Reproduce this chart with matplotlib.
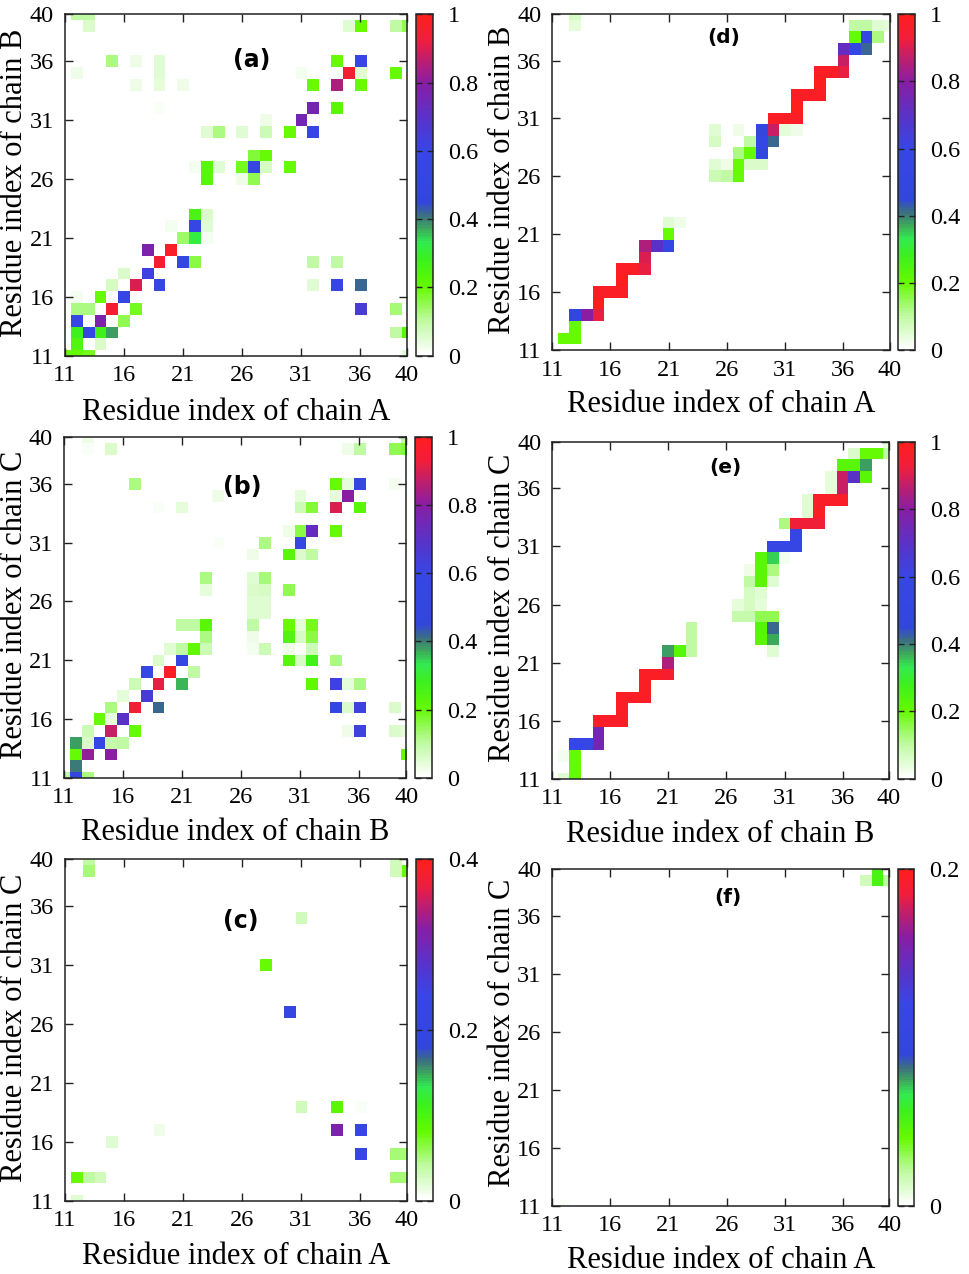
import numpy as np
import matplotlib
matplotlib.use('Agg')
import matplotlib.pyplot as plt
from matplotlib.colors import LinearSegmentedColormap

plt.rcParams['font.family'] = ['Liberation Serif', 'DejaVu Serif']

# residue numbering and ticks
residues = list(range(11, 41))
axis_ticks = [11, 16, 21, 26, 31, 36, 40]

# contact maps: (residue on x, residue on y, probability)
contacts_a = [
    (12, 40, .1), (13, 40, .1), (13, 39, .06), (35, 39, .05), (36, 39, .2), (39, 39, .1), (40, 39, .15),
    (15, 36, .12), (17, 36, .03), (19, 36, .05), (34, 36, .2), (36, 36, .55),
    (12, 35, .03), (19, 35, .05), (31, 35, .02), (35, 35, .95), (36, 35, .05), (39, 35, .2),
    (17, 34, .03), (19, 34, .04), (21, 34, .03), (32, 34, .2), (34, 34, .85), (36, 34, .2),
    (19, 32, .01), (32, 32, .75), (34, 32, .22), (28, 31, .03), (31, 31, .75),
    (23, 30, .05), (24, 30, .12), (26, 30, .05), (28, 30, .08), (30, 30, .2), (32, 30, .55),
    (27, 28, .17), (28, 28, .2),
    (22, 27, .02), (23, 27, .22), (24, 27, .05), (26, 27, .18), (27, 27, .55), (28, 27, .07), (30, 27, .2),
    (23, 26, .22), (26, 26, .03), (27, 26, .15),
    (22, 23, .25), (23, 23, .06), (20, 22, .02), (22, 22, .55), (23, 22, .05),
    (21, 21, .14), (22, 21, .32), (23, 21, .02), (18, 20, .78), (20, 20, .97),
    (19, 19, .95), (21, 19, .58), (22, 19, .16), (32, 19, .1), (34, 19, .1),
    (16, 18, .06), (18, 18, .62),
    (15, 17, .07), (17, 17, .9), (19, 17, .55), (32, 17, .05), (34, 17, .55), (36, 17, .42),
    (12, 16, .02), (14, 16, .2), (16, 16, .6),
    (12, 15, .12), (13, 15, .12), (15, 15, .95), (17, 15, .18), (36, 15, .65), (39, 15, .13),
    (12, 14, .55), (14, 14, .78), (16, 14, .15),
    (12, 13, .28), (13, 13, .58), (14, 13, .27), (15, 13, .38), (39, 13, .1), (40, 13, .22),
    (12, 12, .24), (14, 12, .06), (11, 11, .2), (12, 11, .2), (13, 11, .18), (40, 11, .05),
]
contacts_b = [
    (13, 40, .03), (40, 40, .1), (13, 39, .01), (15, 39, .06), (35, 39, .03), (36, 39, .1), (39, 39, .15), (40, 39, .17),
    (17, 36, .12), (34, 36, .2), (35, 36, .04), (36, 36, .55), (39, 36, .02),
    (24, 35, .03), (31, 35, .04), (34, 35, .04), (35, 35, .8),
    (19, 34, .01), (21, 34, .04), (31, 34, .08), (32, 34, .17), (34, 34, .9), (36, 34, .22),
    (30, 32, .03), (31, 32, .16), (32, 32, .72), (34, 32, .2),
    (24, 31, .01), (28, 31, .12), (31, 31, .55), (27, 30, .03), (30, 30, .22), (31, 30, .06), (32, 30, .1),
    (23, 28, .12), (27, 28, .05), (28, 28, .13), (23, 27, .04), (27, 27, .06), (28, 27, .07), (30, 27, .15),
    (27, 26, .05), (28, 26, .05), (27, 25, .05), (28, 25, .05),
    (21, 24, .1), (22, 24, .1), (23, 24, .22), (27, 24, .1), (30, 24, .2), (31, 24, .04), (32, 24, .18),
    (23, 23, .12), (27, 23, .03), (30, 23, .24), (31, 23, .07), (32, 23, .16),
    (20, 22, .05), (21, 22, .1), (22, 22, .21), (23, 22, .08), (27, 22, .02), (28, 22, .08), (30, 22, .03), (32, 22, .08),
    (19, 21, .06), (21, 21, .55), (30, 21, .23), (31, 21, .07), (32, 21, .27), (34, 21, .12),
    (18, 20, .57), (20, 20, .98), (22, 20, .1),
    (17, 19, .08), (19, 19, .92), (21, 19, .36), (32, 19, .21), (34, 19, .62), (35, 19, .04), (36, 19, .12),
    (16, 18, .04), (18, 18, .65),
    (15, 17, .12), (17, 17, .93), (19, 17, .42), (34, 17, .52), (35, 17, .06), (36, 17, .62), (39, 17, .06),
    (14, 16, .2), (15, 16, .04), (16, 16, .7),
    (13, 15, .08), (15, 15, .88), (17, 15, .2), (35, 15, .03), (36, 15, .62), (39, 15, .06), (40, 15, .04),
    (12, 14, .38), (13, 14, .06), (14, 14, .6), (15, 14, .09), (16, 14, .1),
    (12, 13, .2), (13, 13, .82), (15, 13, .8), (40, 13, .2),
    (12, 12, .4), (11, 11, .1), (12, 11, .5), (13, 11, .12),
]
contacts_c = [
    (13, 40, .04), (39, 40, .03), (13, 39, .05), (39, 39, .03), (40, 39, .08), (39, 36, .003), (31, 35, .03),
    (28, 31, .08), (30, 27, .22), (31, 19, .03), (33, 19, .003), (34, 19, .09), (36, 19, .005),
    (19, 17, .01), (34, 17, .31), (36, 17, .22), (15, 16, .02),
    (36, 15, .22), (39, 15, .05), (40, 15, .05),
    (12, 13, .08), (13, 13, .04), (14, 13, .03), (39, 13, .05), (40, 13, .05), (12, 11, .02),
]
contacts_d = [
    (13, 40, .07), (13, 39, .04), (37, 39, .1), (38, 39, .1), (39, 39, .05), (40, 39, .04),
    (37, 38, .2), (38, 38, .52), (39, 38, .12), (36, 37, .72), (37, 37, .6), (38, 37, .42),
    (36, 36, .88), (34, 35, .98), (35, 35, .98), (36, 35, .92), (34, 34, 1.0),
    (32, 33, .98), (33, 33, .98), (34, 33, .98), (32, 32, 1.0), (30, 31, .98), (31, 31, .98), (32, 31, .98),
    (25, 30, .05), (27, 30, .03), (29, 30, .48), (30, 30, .88), (31, 30, .04), (32, 30, .03),
    (25, 29, .07), (28, 29, .1), (29, 29, .6), (30, 29, .42),
    (27, 28, .12), (28, 28, .2), (29, 28, .5),
    (25, 27, .05), (26, 27, .03), (27, 27, .2), (28, 27, .06), (29, 27, .06),
    (25, 26, .08), (26, 26, .1), (27, 26, .2),
    (21, 22, .05), (22, 22, .03), (21, 21, .2), (19, 20, .85), (20, 20, .7), (21, 20, .57),
    (19, 19, .9), (17, 18, .98), (18, 18, .98), (19, 18, .92), (17, 17, 1.0),
    (15, 16, .98), (16, 16, .98), (17, 16, .98), (15, 15, 1.0),
    (13, 14, .52), (14, 14, .8), (15, 14, .92), (13, 13, .2), (12, 12, .2), (13, 12, .2),
]
contacts_e = [
    (40, 40, .04), (37, 39, .06), (38, 39, .2), (39, 39, .2), (40, 39, .1),
    (36, 38, .22), (37, 38, .22), (38, 38, .38), (35, 37, .04), (36, 37, .88), (37, 37, .7), (38, 37, .22),
    (35, 36, .04), (36, 36, .88), (33, 35, .05), (34, 35, .97), (35, 35, .97), (36, 35, .97),
    (33, 34, .05), (34, 34, .98), (31, 33, .12), (32, 33, .93), (33, 33, .93), (34, 33, .93),
    (32, 32, .55), (30, 31, .56), (31, 31, .56), (32, 31, .56),
    (29, 30, .22), (30, 30, .35), (31, 30, .02), (28, 29, .03), (29, 29, .22), (30, 29, .12),
    (28, 28, .1), (29, 28, .22), (30, 28, .05), (28, 27, .07), (29, 27, .05),
    (27, 26, .04), (28, 26, .07), (29, 26, .04), (27, 25, .09), (28, 25, .09), (29, 25, .15), (30, 25, .15),
    (23, 24, .1), (29, 24, .23), (30, 24, .42), (23, 23, .1), (29, 23, .22), (30, 23, .37),
    (21, 22, .38), (22, 22, .22), (23, 22, .1), (30, 22, .05), (21, 21, .85),
    (19, 20, .98), (20, 20, .98), (21, 20, .96), (19, 19, .98), (17, 18, .98), (18, 18, .98), (19, 18, .98),
    (17, 17, .98), (15, 16, .97), (16, 16, .97), (17, 16, .97), (15, 15, .75),
    (13, 14, .58), (14, 14, .6), (15, 14, .75), (12, 13, .02), (13, 13, .2), (13, 12, .2), (12, 11, .05), (13, 11, .2),
]
contacts_f = [(39, 40, .05), (38, 39, .015), (39, 39, .05), (40, 39, .02), (12, 11, .003)]

# colour scale
palette_stops = [0, .1, .2, .28, .33, .37, .41, .45, .6, .7, .8, .87, .93, 1]
palette_rgb = [(255, 255, 255), (190, 250, 160), (100, 250, 0), (60, 240, 30), (50, 235, 80), (60, 170, 90),
               (60, 110, 130), (50, 70, 220), (55, 70, 230), (90, 50, 200), (135, 30, 165), (190, 30, 110),
               (240, 30, 60), (255, 30, 30)]
cmap = LinearSegmentedColormap.from_list(
    'contact', [(s, tuple(c / 255 for c in rgb)) for s, rgb in zip(palette_stops, palette_rgb)], N=128)

W, H = 969, 1274
fig = plt.figure(figsize=(W / 100, H / 100), dpi=100)


def px_axes(x0, y0, x1, y1):
    return fig.add_axes([x0 / W, 1 - y1 / H, (x1 - x0) / W, (y1 - y0) / H])


def draw_panel(contacts, name, xname, yname, vmax, cbticks, cbfmt, box, cbox, xlab_y, ylab_x, ylab_y, tag_xy, tag_size):
    grid = np.zeros((len(residues), len(residues)))
    for rx, ry, p in contacts:
        grid[ry - residues[0], rx - residues[0]] = p

    ax = px_axes(*box)
    im = ax.imshow(grid, origin='lower', cmap=cmap, vmin=0, vmax=vmax, aspect='auto', interpolation='nearest',
                   extent=(10.5, 40.5, 10.5, 40.5))
    ax.set_xlim(11, 40)
    ax.set_ylim(11, 40)
    ax.set_xticks(axis_ticks)
    ax.set_yticks(axis_ticks)
    ax.tick_params(direction='in', length=6, width=1, top=True, right=True, labelsize=17.5, pad=8, color='#222222')
    ax.tick_params(axis='x', pad=7)
    for s in ax.spines.values():
        s.set_linewidth(1.1)
        s.set_color('#222222')

    cax = px_axes(cbox[0], box[1], cbox[1], box[3])
    cb = fig.colorbar(im, cax=cax, ticks=cbticks)
    cb.ax.set_yticklabels(cbfmt)
    cb.ax.tick_params(direction='in', left=True, right=True, length=4.5, width=1, color='#222222', labelsize=17.5, pad=11)
    cb.outline.set_linewidth(1.1)
    cb.outline.set_edgecolor('#222222')

    fig.text((box[0] + box[2]) / 2 / W, 1 - xlab_y / H, 'Residue index of chain ' + xname,
             ha='center', va='center', fontsize=22)
    fig.text(ylab_x / W, 1 - ylab_y / H, 'Residue index of chain ' + yname,
             ha='center', va='center', rotation=90, fontsize=22)
    fig.text(tag_xy[0] / W, 1 - tag_xy[1] / H, name, ha='center', va='center', fontsize=tag_size,
             fontweight='bold', family='DejaVu Sans')


full_ticks = [0, .2, .4, .6, .8, 1]
full_labels = ['0', '0.2', '0.4', '0.6', '0.8', '1']

draw_panel(contacts_a, '(a)', 'A', 'B', 1, full_ticks, full_labels, (65, 14.3, 407, 355.7), (415.7, 433),
           412, 15, 183, (252, 60), 17)
draw_panel(contacts_b, '(b)', 'B', 'C', 1, full_ticks, full_labels, (64, 436.7, 406.3, 777.7), (415, 432),
           833, 14.5, 605, (242, 487), 17)
draw_panel(contacts_c, '(c)', 'A', 'C', .4, [0, .2, .4], ['0', '0.2', '0.4'], (65, 859.3, 407, 1200.7), (415.7, 433),
           1256, 15, 1028, (241, 921), 17)
draw_panel(contacts_d, '(d)', 'A', 'B', 1, full_ticks, full_labels, (552.3, 14.3, 889.7, 350), (898, 915),
           404, 502, 180, (724, 37), 14.5)
draw_panel(contacts_e, '(e)', 'B', 'C', 1, full_ticks, full_labels, (552.3, 442, 889, 778.7), (897.7, 914.5),
           834, 502, 608, (725, 468), 14.5)
draw_panel(contacts_f, '(f)', 'A', 'C', .2, [0, .2], ['0', '0.2'], (552.3, 869.3, 889.3, 1205.7), (897.7, 914.3),
           1260, 502, 1033, (728, 897), 14.5)

fig.savefig('out.png', dpi=100)
